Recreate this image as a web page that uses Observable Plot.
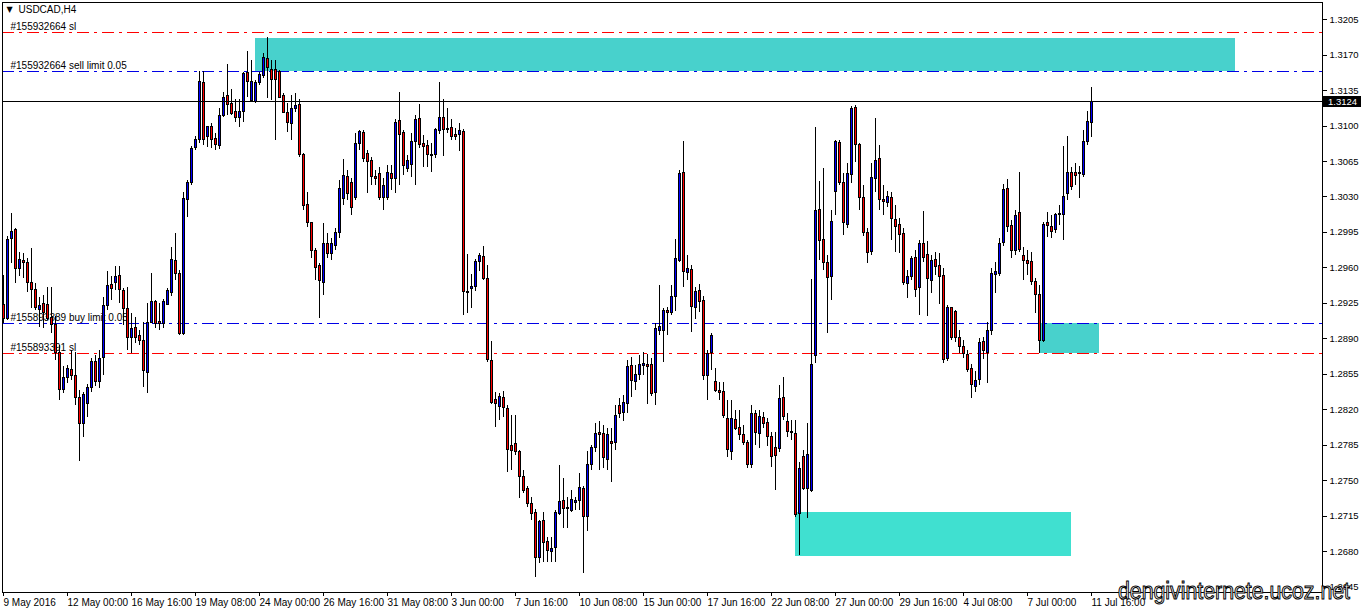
<!DOCTYPE html>
<html><head><meta charset="utf-8">
<script src="https://cdn.jsdelivr.net/npm/d3@7"></script>
<script src="https://cdn.jsdelivr.net/npm/@observablehq/plot@0.6"></script>
<style>
html,body{margin:0;padding:0;background:#fff;}
#chart{position:relative;width:1362px;height:613px;overflow:hidden;}
#chart svg{shape-rendering:crispEdges;}
</style>
</head><body><div id="chart"></div>
<script>
const symbol = "USDCAD,H4";
const opens = [
1.2923,1.2910,1.2989,1.2997,1.2959,1.2967,1.2965,1.2945,1.2938,1.2918,
1.2924,1.2923,1.2911,1.2904,1.2876,1.2839,1.2851,1.2859,1.2853,1.2832,
1.2806,1.2826,1.2841,1.2867,1.2847,1.2871,1.2922,1.2943,1.2945,1.2952,
1.2937,1.2919,1.2891,1.2901,1.2893,1.2888,1.2856,1.2906,1.2926,1.2907,
1.2905,1.2923,1.2935,1.2967,1.2954,1.2895,1.3027,1.3044,1.3078,1.3086,
1.3143,1.3089,1.3099,1.3087,1.3080,1.3110,1.3130,1.3122,1.3114,1.3108,
1.3114,1.3152,1.3125,1.3124,1.3143,1.3149,1.3166,1.3155,1.3155,1.3153,
1.3130,1.3113,1.3102,1.3117,1.3121,1.3071,1.3022,1.3004,1.2977,1.2962,
1.2945,1.2984,1.2974,1.2982,1.2994,1.3028,1.3050,1.3044,1.3029,1.3082,
1.3093,1.3072,1.3066,1.3050,1.3053,1.3029,1.3029,1.3053,1.3048,1.3105,
1.3093,1.3058,1.3062,1.3084,1.3107,1.3082,1.3080,1.3070,1.3071,1.3095,
1.3108,1.3097,1.3098,1.3091,1.3091,1.3094,1.2935,1.2939,1.2941,1.2966,
1.2971,1.2949,1.2868,1.2830,1.2823,1.2832,1.2821,1.2784,1.2786,1.2778,
1.2754,1.2742,1.2727,1.2718,1.2674,1.2710,1.2689,1.2679,1.2683,1.2717,
1.2730,1.2723,1.2720,1.2728,1.2730,1.2742,1.2714,1.2765,1.2782,1.2797,
1.2796,1.2770,1.2788,1.2787,1.2824,1.2817,1.2826,1.2863,1.2847,1.2854,
1.2863,1.2864,1.2864,1.2836,1.2898,1.2898,1.2917,1.2915,1.2931,1.2967,
1.3054,1.2955,1.2958,1.2920,1.2937,1.2927,1.2853,1.2876,1.2847,1.2838,
1.2837,1.2811,1.2778,1.2810,1.2802,1.2795,1.2787,1.2765,1.2816,1.2796,
1.2812,1.2807,1.2793,1.2782,1.2781,1.2832,1.2808,1.2798,1.2796,1.2717,
1.2773,1.2742,1.2740,1.2873,1.3017,1.2988,1.2965,1.2951,1.3035,1.3083,
1.3044,1.3002,1.3052,1.3118,1.3081,1.3029,1.2994,1.2976,1.3048,1.3067,
1.3027,1.3024,1.3029,1.3007,1.3002,1.2993,1.2944,1.2951,1.2970,1.2940,
1.2984,1.2973,1.2947,1.2968,1.2962,1.2952,1.2870,1.2920,1.2916,1.2891,
1.2882,1.2874,1.2860,1.2842,1.2849,1.2887,1.2876,1.2898,1.2953,1.2954,
1.2985,1.3038,1.3001,1.2977,1.3014,1.2972,1.2967,1.2966,1.2946,1.2933,
1.2888,1.3004,1.3000,1.2997,1.3012,1.3012,1.3033,1.3054,1.3054,1.3054,
1.3052,1.3084,1.3103];
const highs = [
1.2952,1.2991,1.3014,1.2999,1.2975,1.2974,1.2969,1.2979,1.2945,1.2931,
1.2933,1.2941,1.2941,1.2912,1.2883,1.2863,1.2864,1.2878,1.2876,1.2839,
1.2837,1.2845,1.2871,1.2873,1.2878,1.2931,1.2956,1.2951,1.2961,1.2961,
1.2940,1.2941,1.2915,1.2911,1.2898,1.2906,1.2925,1.2954,1.2928,1.2925,
1.2929,1.2940,1.2980,1.2994,1.2957,1.3034,1.3046,1.3080,1.3090,1.3154,
1.3154,1.3100,1.3103,1.3093,1.3117,1.3133,1.3161,1.3136,1.3126,1.3126,
1.3153,1.3174,1.3165,1.3145,1.3153,1.3172,1.3187,1.3165,1.3165,1.3155,
1.3132,1.3122,1.3130,1.3132,1.3126,1.3073,1.3034,1.3005,1.2979,1.2964,
1.3004,1.2994,1.2989,1.2999,1.3046,1.3067,1.3056,1.3048,1.3093,1.3096,
1.3096,1.3076,1.3069,1.3056,1.3059,1.3048,1.3061,1.3061,1.3106,1.3133,
1.3096,1.3071,1.3093,1.3110,1.3121,1.3091,1.3086,1.3083,1.3098,1.3143,
1.3126,1.3117,1.3106,1.3098,1.3103,1.3097,1.2973,1.2953,1.2968,1.2974,
1.2981,1.2962,1.2887,1.2837,1.2836,1.2838,1.2824,1.2814,1.2814,1.2780,
1.2760,1.2744,1.2733,1.2721,1.2711,1.2718,1.2694,1.2694,1.2720,1.2765,
1.2752,1.2733,1.2740,1.2733,1.2757,1.2744,1.2779,1.2785,1.2806,1.2808,
1.2804,1.2801,1.2801,1.2824,1.2831,1.2834,1.2869,1.2872,1.2864,1.2873,
1.2876,1.2874,1.2871,1.2905,1.2943,1.2920,1.2921,1.2943,1.2988,1.3056,
1.3085,1.2972,1.2962,1.2941,1.2944,1.2932,1.2878,1.2895,1.2861,1.2847,
1.2847,1.2829,1.2829,1.2819,1.2819,1.2804,1.2790,1.2824,1.2819,1.2819,
1.2817,1.2811,1.2797,1.2797,1.2844,1.2852,1.2816,1.2809,1.2809,1.2768,
1.2780,1.2806,1.2949,1.3099,1.3045,1.3058,1.2972,1.3017,1.3086,1.3086,
1.3053,1.3063,1.3119,1.3120,1.3083,1.3041,1.2999,1.3063,1.3107,1.3081,
1.3041,1.3035,1.3034,1.3022,1.3009,1.2999,1.2957,1.2971,1.2977,1.2987,
1.3016,1.2986,1.2972,1.2975,1.2974,1.2959,1.2923,1.2921,1.2918,1.2898,
1.2888,1.2878,1.2865,1.2858,1.2890,1.2891,1.2906,1.2959,1.2965,1.2989,
1.3042,1.3047,1.3007,1.3017,1.3054,1.2980,1.2977,1.2975,1.2950,1.2943,
1.3005,1.3015,1.3012,1.3014,1.3022,1.3080,1.3090,1.3059,1.3063,1.3060,
1.3096,1.3114,1.3138];
const lows = [
1.2905,1.2908,1.2964,1.2945,1.2951,1.2950,1.2936,1.2920,1.2918,1.2901,
1.2900,1.2908,1.2895,1.2869,1.2829,1.2836,1.2846,1.2849,1.2824,1.2769,
1.2793,1.2812,1.2837,1.2843,1.2841,1.2854,1.2918,1.2928,1.2938,1.2925,
1.2903,1.2878,1.2875,1.2885,1.2883,1.2842,1.2836,1.2905,1.2900,1.2898,
1.2900,1.2923,1.2932,1.2948,1.2893,1.2893,1.3010,1.3041,1.3076,1.3083,
1.3081,1.3079,1.3078,1.3076,1.3077,1.3108,1.3110,1.3110,1.3104,1.3099,
1.3104,1.3128,1.3124,1.3122,1.3140,1.3147,1.3127,1.3125,1.3086,1.3127,
1.3113,1.3094,1.3086,1.3113,1.3069,1.3017,1.3000,1.2969,1.2948,1.2910,
1.2933,1.2969,1.2967,1.2977,1.2989,1.3022,1.3027,1.3012,1.3027,1.3076,
1.3064,1.3033,1.3041,1.3041,1.3027,1.3017,1.3027,1.3036,1.3033,1.3041,
1.3051,1.3054,1.3049,1.3041,1.3078,1.3059,1.3059,1.3054,1.3068,1.3092,
1.3070,1.3093,1.3086,1.3086,1.3075,1.2913,1.2915,1.2920,1.2937,1.2956,
1.2948,1.2867,1.2825,1.2802,1.2809,1.2812,1.2758,1.2760,1.2775,1.2732,
1.2737,1.2723,1.2711,1.2654,1.2668,1.2669,1.2669,1.2669,1.2669,1.2716,
1.2703,1.2703,1.2718,1.2720,1.2720,1.2658,1.2700,1.2760,1.2778,1.2760,
1.2762,1.2760,1.2748,1.2780,1.2811,1.2808,1.2816,1.2832,1.2839,1.2849,
1.2854,1.2825,1.2833,1.2824,1.2893,1.2867,1.2893,1.2913,1.2917,1.2965,
1.2941,1.2948,1.2896,1.2909,1.2916,1.2849,1.2829,1.2859,1.2837,1.2829,
1.2811,1.2773,1.2770,1.2799,1.2790,1.2785,1.2762,1.2762,1.2785,1.2782,
1.2801,1.2784,1.2763,1.2740,1.2778,1.2809,1.2793,1.2790,1.2714,1.2676,
1.2740,1.2713,1.2738,1.2866,1.2967,1.2957,1.2895,1.2928,1.3012,1.3041,
1.2992,1.2999,1.3043,1.3064,1.3017,1.2991,1.2964,1.2972,1.3034,1.3017,
1.3012,1.3020,1.2987,1.2975,1.2974,1.2943,1.2930,1.2948,1.2931,1.2913,
1.2965,1.2912,1.2935,1.2952,1.2924,1.2866,1.2868,1.2888,1.2886,1.2875,
1.2871,1.2857,1.2831,1.2837,1.2844,1.2870,1.2846,1.2893,1.2935,1.2951,
1.2981,1.2995,1.2969,1.2972,1.2975,1.2948,1.2952,1.2943,1.2915,1.2875,
1.2886,1.2990,1.2989,1.2994,1.3002,1.2987,1.3027,1.3036,1.3041,1.3028,
1.3049,1.3081,1.3089];
const closes = [
1.2910,1.2988,1.2995,1.2959,1.2968,1.2965,1.2945,1.2938,1.2920,1.2922,
1.2915,1.2910,1.2904,1.2876,1.2839,1.2851,1.2860,1.2853,1.2832,1.2806,
1.2834,1.2841,1.2867,1.2847,1.2870,1.2922,1.2942,1.2939,1.2951,1.2938,
1.2919,1.2891,1.2900,1.2891,1.2888,1.2858,1.2906,1.2926,1.2905,1.2905,
1.2926,1.2937,1.2968,1.2954,1.2895,1.3028,1.3044,1.3077,1.3086,1.3144,
1.3086,1.3099,1.3086,1.3081,1.3110,1.3128,1.3121,1.3112,1.3108,1.3114,
1.3151,1.3144,1.3144,1.3143,1.3150,1.3167,1.3157,1.3145,1.3145,1.3128,
1.3113,1.3103,1.3117,1.3120,1.3071,1.3021,1.3004,1.2977,1.2960,1.2947,
1.2984,1.2974,1.2984,1.2994,1.3038,1.3051,1.3033,1.3019,1.3082,1.3094,
1.3067,1.3065,1.3050,1.3048,1.3029,1.3041,1.3054,1.3048,1.3103,1.3091,
1.3061,1.3066,1.3084,1.3106,1.3081,1.3079,1.3071,1.3071,1.3096,1.3108,
1.3096,1.3096,1.3089,1.3089,1.3095,1.2936,1.2936,1.2941,1.2966,1.2972,
1.2949,1.2869,1.2827,1.2826,1.2833,1.2822,1.2780,1.2779,1.2778,1.2754,
1.2740,1.2727,1.2717,1.2674,1.2709,1.2688,1.2680,1.2682,1.2718,1.2729,
1.2722,1.2722,1.2731,1.2730,1.2743,1.2714,1.2765,1.2782,1.2796,1.2795,
1.2772,1.2795,1.2786,1.2814,1.2816,1.2827,1.2862,1.2848,1.2854,1.2864,
1.2865,1.2862,1.2835,1.2900,1.2902,1.2917,1.2915,1.2931,1.2969,1.3053,
1.2956,1.2959,1.2921,1.2936,1.2926,1.2853,1.2875,1.2893,1.2838,1.2836,
1.2814,1.2780,1.2811,1.2801,1.2795,1.2787,1.2765,1.2816,1.2797,1.2813,
1.2806,1.2793,1.2773,1.2774,1.2831,1.2813,1.2798,1.2797,1.2716,1.2761,
1.2742,1.2775,1.2864,1.3016,1.2987,1.2965,1.2950,1.3005,1.3084,1.3044,
1.3004,1.3053,1.3117,1.3081,1.3029,1.2994,1.2975,1.3049,1.3066,1.3027,
1.3025,1.3030,1.3008,1.3000,1.2992,1.2945,1.2951,1.2969,1.2938,1.2984,
1.2970,1.2949,1.2967,1.2961,1.2951,1.2869,1.2920,1.2891,1.2891,1.2882,
1.2875,1.2859,1.2844,1.2848,1.2886,1.2878,1.2898,1.2954,1.2956,1.2984,
1.3037,1.3000,1.2977,1.3011,1.2978,1.2967,1.2964,1.2946,1.2933,1.2888,
1.3002,1.3001,1.2995,1.3012,1.3013,1.3030,1.3054,1.3040,1.3051,1.3053,
1.3084,1.3104,1.3124];

const xTickIndex = [0,16,32,48,64,80,96,112,128,144,160,176,192,208,224,240,256,272];
const xTickLabels = ["9 May 2016","12 May 00:00","16 May 16:00","19 May 08:00","24 May 00:00","26 May 16:00","31 May 08:00","3 Jun 00:00","7 Jun 16:00","10 Jun 08:00","15 Jun 00:00","17 Jun 16:00","22 Jun 08:00","27 Jun 00:00","29 Jun 16:00","4 Jul 08:00","7 Jul 00:00","11 Jul 16:00"];
const yTicks = [1.3205,1.3170,1.3135,1.3100,1.3065,1.3030,1.2995,1.2960,1.2925,1.2890,1.2855,1.2820,1.2785,1.2750,1.2715,1.2680,1.2645];

const orderPrices = [1.3192, 1.3154, 1.2905, 1.2875];
const orderLabels = ["#155932664 sl", "#155932664 sell limit 0.05", "#155893389 buy limit 0.05", "#155893391 sl"];
const orderKinds = ["sl", "limit", "limit", "sl"];

const zoneStart = [63, 198, 259];
const zoneEnd = [308, 267, 274];
const zoneLow = [1.3154, 1.2675, 1.2875];
const zoneHigh = [1.3186, 1.2718, 1.2905];

const lastPrice = 1.3124;
const watermark = "dengivinternete.ucoz.net";

const bars = opens.map((o, i) => ({i, o, h: highs[i], l: lows[i], c: closes[i]}));
const zones = zoneStart.map((s, k) => ({k, x1: s, x2: zoneEnd[k], y1: zoneLow[k], y2: zoneHigh[k]}));
const orders = orderPrices.map((p, k) => ({p, label: orderLabels[k], kind: orderKinds[k]}));

const font = "'Liberation Sans', Arial, sans-serif";

const plot = Plot.plot({
  width: 1362, height: 613,
  marginTop: 2, marginRight: 40, marginBottom: 21, marginLeft: 2,
  style: {fontFamily: font, fontSize: "10px", background: "#fff", color: "#000", overflow: "visible"},
  x: {type: "linear", domain: [-0.25, 329.75]},
  y: {domain: [1.26395, 1.3222]},
  marks: [
    Plot.rect(zones, {x1: "x1", x2: "x2", y1: "y1", y2: "y2", fill: d => d.k === 1 ? "#40e0d0" : "#48d1cc"}),
    Plot.text(orders, {y: "p", text: "label", frameAnchor: "left", dx: 8, dy: -2.5, lineAnchor: "bottom", textAnchor: "start", fill: "#000", fontSize: 10}),
    Plot.ruleY(orders, {y: "p", stroke: d => d.kind === "sl" ? "#ff0000" : "#0000e6", strokeDasharray: "12,5,3,5"}),
    Plot.ruleX(bars, {x: "i", y1: "l", y2: "h", stroke: "#000"}),
    Plot.rect(bars, {x1: d => d.i - 0.25, x2: d => d.i + 0.25, y1: "o", y2: "c", fill: d => d.c >= d.o ? "#0000ff" : "#ff0000", stroke: "#000"}),
    Plot.ruleY([lastPrice], {stroke: "#000"}),
    Plot.frame({stroke: "#000"}),
    Plot.axisX({ticks: xTickIndex, tickFormat: d => xTickLabels[xTickIndex.indexOf(d)], tickSize: 4, tickPadding: 2, textAnchor: "start", label: null, fontSize: 10}),
    Plot.axisY({anchor: "right", ticks: yTicks, tickFormat: d => d.toFixed(4), tickSize: 4, tickPadding: 3, label: null, fontSize: 9.5}),
    Plot.text([symbol], {frameAnchor: "top-left", dx: 16, dy: 3, lineAnchor: "top", textAnchor: "start", fontSize: 10}),
    Plot.text(["\u25BC"], {frameAnchor: "top-left", dx: 4, dy: 4, lineAnchor: "top", textAnchor: "start", fontFamily: "DejaVu Sans", fontSize: 8})
  ]
});

document.getElementById("chart").appendChild(plot);

const svg = d3.select(plot);
const yPos = Math.round(plot.scale("y").apply(lastPrice));
svg.append("rect").attr("x", 1323).attr("y", yPos - 5).attr("width", 38).attr("height", 11).attr("fill", "#000");
svg.append("text").attr("x", 1328).attr("y", yPos + 4).attr("text-anchor", "start")
  .attr("fill", "#fff").attr("font-size", 9.5).attr("font-family", font).text(lastPrice.toFixed(4));
svg.append("text").attr("x", 1118).attr("y", 599).attr("text-anchor", "start").attr("font-size", 23)
  .attr("font-family", font)
  .attr("fill", "#fff").attr("stroke", "#000").attr("stroke-width", 1)
  .attr("textLength", 232).attr("lengthAdjust", "spacingAndGlyphs")
  .text(watermark);
</script>
</body></html>
